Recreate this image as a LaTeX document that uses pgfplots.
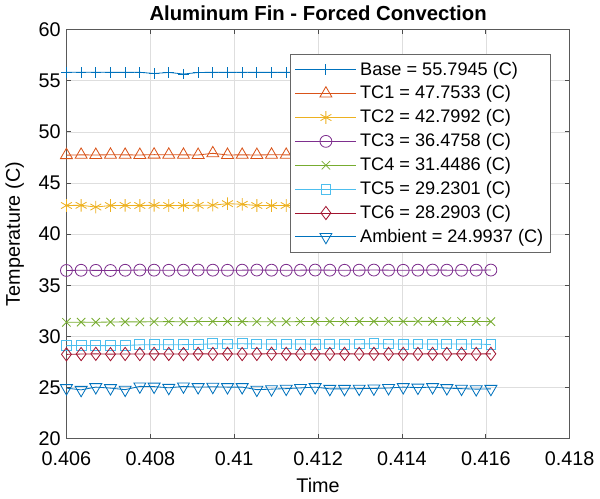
\documentclass[border=0pt]{standalone}
\usepackage{pgfplots}
\pgfplotsset{compat=1.18}
\usepackage{pgfplotstable}
\usepackage{fontspec}
\setmainfont{Liberation Sans}

\definecolor{c1}{rgb}{0,0.447,0.741}
\definecolor{c2}{rgb}{0.85,0.325,0.098}
\definecolor{c3}{rgb}{0.929,0.694,0.125}
\definecolor{c4}{rgb}{0.494,0.184,0.556}
\definecolor{c5}{rgb}{0.466,0.674,0.188}
\definecolor{c6}{rgb}{0.301,0.745,0.933}
\definecolor{c7}{rgb}{0.635,0.078,0.184}

\pgfplotstableread{
t       base   tc1    tc2    tc3    tc4    tc5    tc6    amb
0.40600 55.82  47.72  42.80  36.45  31.38  29.10  28.25  24.95
0.40635 55.82  47.75  42.82  36.47  31.40  29.12  28.28  24.78
0.40670 55.82  47.74  42.65  36.46  31.39  29.11  28.30  25.05
0.40705 55.82  47.76  42.80  36.45  31.41  29.10  28.27  24.95
0.40740 55.81  47.75  42.81  36.47  31.43  29.12  28.29  24.80
0.40775 55.82  47.74  42.80  36.49  31.42  29.18  28.28  25.12
0.40809 55.70  47.77  42.82  36.48  31.44  29.20  28.30  25.10
0.40844 55.81  47.76  42.80  36.47  31.45  29.18  28.29  24.98
0.40879 55.65  47.75  42.81  36.48  31.44  29.20  28.28  25.12
0.40914 55.80  47.74  42.82  36.49  31.46  29.22  28.30  25.05
0.40949 55.82  47.90  42.83  36.48  31.47  29.28  28.29  25.08
0.40984 55.81  47.74  42.98  36.47  31.46  29.27  28.30  25.05
0.41019 55.82  47.75  42.92  36.48  31.45  29.28  28.28  25.05
0.41054 55.81  47.74  42.80  36.49  31.44  29.27  28.29  24.80
0.41089 55.82  47.76  42.79  36.48  31.43  29.26  28.31  24.85
0.41124 55.81  47.75  42.80  36.47  31.44  29.27  28.30  24.90
0.41158 55.82  47.74  42.81  36.48  31.45  29.26  28.29  24.97
0.41193 55.81  47.75  42.80  36.49  31.47  29.25  28.30  25.05
0.41228 55.82  47.76  42.79  36.48  31.46  29.27  28.29  24.88
0.41263 55.81  47.75  42.80  36.47  31.45  29.26  28.30  24.88
0.41298 55.82  47.76  42.81  36.48  31.46  29.27  28.29  24.90
0.41333 55.81  47.75  42.80  36.49  31.47  29.28  28.30  24.92
0.41368 55.82  47.74  42.79  36.48  31.48  29.27  28.29  24.96
0.41403 55.81  47.75  42.80  36.47  31.47  29.26  28.30  25.05
0.41438 55.82  47.76  42.81  36.48  31.48  29.27  28.29  25.00
0.41473 55.81  47.75  42.80  36.49  31.47  29.26  28.30  25.05
0.41507 55.82  47.74  42.79  36.48  31.46  29.27  28.29  24.95
0.41542 55.81  47.75  42.80  36.47  31.47  29.26  28.30  24.90
0.41577 55.82  47.76  42.81  36.48  31.46  29.27  28.29  24.85
0.41612 55.81  47.75  42.80  36.49  31.45  29.20  28.30  24.88
}\data

\begin{document}
\begin{tikzpicture}
\begin{axis}[
    scale only axis,
    width=305pt, height=248pt,
    xmin=0.406, xmax=0.418, ymin=20, ymax=60,
    xtick={0.406,0.408,...,0.4181}, ytick={20,25,...,60},
    xticklabels={0.406,0.408,0.41,0.412,0.414,0.416,0.418},
    tick align=inside,
    tick style={black!70, line width=0.5pt},
    major tick length=3pt,
    axis line style={black!65, line width=0.6pt},
    grid=major,
    grid style={black!13, line width=0.4pt},
    /pgf/number format/assume math mode=true,
    ticklabel style={font=\fontsize{12}{13}\selectfont},
    xticklabel style={yshift=-4pt},
    xlabel={Time}, ylabel={Temperature (C)},
    label style={font=\fontsize{12}{13}\selectfont},
    xlabel style={yshift=-1pt}, ylabel style={yshift=2pt},
    title={\textbf{Aluminum Fin - Forced Convection}},
    title style={font=\fontsize{12.3}{13}\selectfont, yshift=-4pt},
    legend style={at={(0.963,0.94)}, anchor=north east, draw=black!60, line width=0.5pt,
        font=\fontsize{11}{12}\selectfont, inner sep=2.5pt, row sep=1pt},
    legend cell align=left,
    legend image code/.code={
        \draw[mark repeat=2,mark phase=2] plot coordinates {(0cm,0cm) (0.65cm,0cm) (1.3cm,0cm)};
    },
    every axis plot/.append style={line width=0.5pt, mark size=3.8pt, mark options={solid}},
]
\addplot[c1, mark=+, mark size=3.2pt] table[x=t,y=base] {\data};
\addlegendentry{Base = 55.7945 (C)}
\addplot[c2, mark=triangle, mark size=4.2pt] table[x=t,y=tc1] {\data};
\addlegendentry{TC1 = 47.7533 (C)}
\addplot[c3, mark=asterisk, mark size=3.8pt] table[x=t,y=tc2] {\data};
\addlegendentry{TC2 = 42.7992 (C)}
\addplot[c4, mark=o, mark size=3.6pt] table[x=t,y=tc3] {\data};
\addlegendentry{TC3 = 36.4758 (C)}
\addplot[c5, mark=x, mark size=3.6pt] table[x=t,y=tc4] {\data};
\addlegendentry{TC4 = 31.4486 (C)}
\addplot[c6, mark=square, mark size=3pt] table[x=t,y=tc5] {\data};
\addlegendentry{TC5 = 29.2301 (C)}
\addplot[c7, mark=diamond, mark size=4pt] table[x=t,y=tc6] {\data};
\addlegendentry{TC6 = 28.2903 (C)}
\addplot[c1, mark=triangle, mark size=4.2pt, mark options={rotate=180}] table[x=t,y=amb] {\data};
\addlegendentry{Ambient = 24.9937 (C)}
\end{axis}
\end{tikzpicture}
\end{document}
